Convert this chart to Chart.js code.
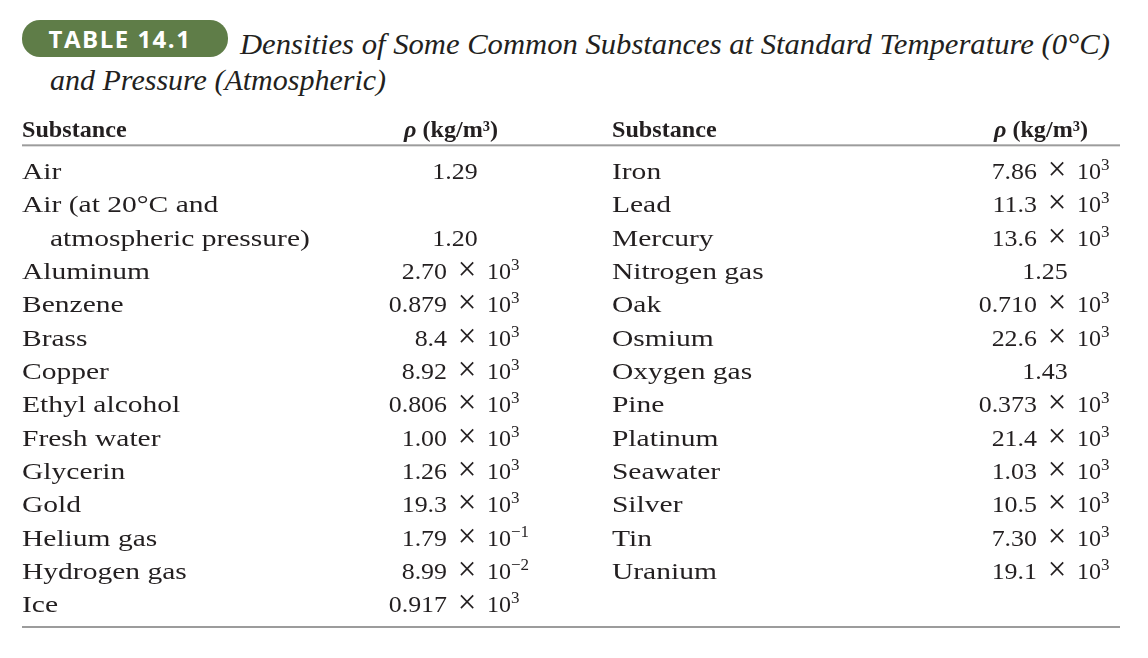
<!DOCTYPE html>
<html lang="en">
<head>
  <meta charset="UTF-8" />
  <title>Table 14.1 Densities</title>
  <script src="https://cdn.jsdelivr.net/npm/chart.js"></script>
  <style>
    html, body { margin: 0; padding: 0; background: #fff; }
    body { width: 1148px; height: 658px; position: relative; overflow: hidden; color: #231f20; }
    .badge {
      position: absolute; left: 22px; top: 20px; width: 206px; height: 37px;
      border-radius: 18px; background: #5f7d48; color: #fff;
      font: bold 24px "Open Sans", sans-serif; letter-spacing: 1.5px;
      line-height: 37px; box-sizing: border-box; padding-right: 10px; text-align: center;
    }
    .title { position: absolute; font: italic 30px "Liberation Serif", serif; line-height: 30px; white-space: nowrap; transform-origin: left top; }
    #wrap { position: absolute; left: 0; top: 0; width: 1148px; height: 658px; }
  </style>
</head>
<body>
  <div class="badge">TABLE 14.1</div>
  <div class="title" id="t1" style="left:240px; top:29px;">Densities of Some Common Substances at Standard Temperature (0°C)</div>
  <div class="title" style="left:50px; top:65px;">and Pressure (Atmospheric)</div>

  <div id="wrap"><canvas id="table"></canvas></div>

  <script>
    // table data, one array per column
    const headers = ['Substance', 'ρ (kg/m³)'];

    const leftSubstances = ['Air', 'Air (at 20°C and', 'atmospheric pressure)', 'Aluminum', 'Benzene', 'Brass',
      'Copper', 'Ethyl alcohol', 'Fresh water', 'Glycerin', 'Gold', 'Helium gas', 'Hydrogen gas', 'Ice'];
    const leftMantissas = ['1.29', '', '1.20', '2.70', '0.879', '8.4', '8.92', '0.806', '1.00', '1.26', '19.3', '1.79', '8.99', '0.917'];
    const leftExponents = [null, null, null, '3', '3', '3', '3', '3', '3', '3', '3', '−1', '−2', '3'];

    const rightSubstances = ['Iron', 'Lead', 'Mercury', 'Nitrogen gas', 'Oak', 'Osmium', 'Oxygen gas', 'Pine',
      'Platinum', 'Seawater', 'Silver', 'Tin', 'Uranium'];
    const rightMantissas = ['7.86', '11.3', '13.6', '1.25', '0.710', '22.6', '1.43', '0.373', '21.4', '1.03', '10.5', '7.30', '19.1'];
    const rightExponents = ['3', '3', '3', null, '3', '3', null, '3', '3', '3', '3', '3', '3'];

    // column anchors in percent of the table width (layout only)
    const colName = [0, 53.73];
    const colValue = [38.71, 92.44];
    const indentedRows = [2];

    const ink = '#231f20';

    const rows = (arr, x) => arr.map((_, i) => ({ x: x, y: i }));

    const tablePlugin = {
      id: 'tableText',
      afterDatasetsDraw(chart) {
        const ctx = chart.ctx;
        const area = chart.chartArea;
        const xs = chart.scales.x;
        ctx.save();

        // rules
        ctx.fillStyle = '#9c9c9c';
        ctx.fillRect(area.left, area.top - 9, area.right - area.left, 2);
        ctx.fillRect(area.left, area.bottom + 6, area.right - area.left, 2);
        ctx.fillStyle = ink;

        // header row
        const hy = area.top - 16;
        for (let h = 0; h < 2; h++) {
          ctx.save();
          ctx.translate(xs.getPixelForValue(colName[h]), hy);
          ctx.scale(1.05, 1);
          ctx.font = 'bold 23px "Liberation Serif"';
          ctx.textAlign = 'left';
          ctx.fillText(headers[0], 0, 0);
          ctx.restore();

          const rho = headers[1].slice(0, 1);
          const rest = headers[1].slice(1);
          ctx.font = 'italic bold 23px "Liberation Serif"';
          const w1 = ctx.measureText(rho).width;
          ctx.font = 'bold 23px "Liberation Serif"';
          const w2 = ctx.measureText(rest).width;
          const sx = 1.05;
          const cx = xs.getPixelForValue(colValue[h]) + 4;
          ctx.save();
          ctx.translate(cx - (w1 + w2) * sx / 2, hy);
          ctx.scale(sx, 1);
          ctx.textAlign = 'left';
          ctx.font = 'italic bold 23px "Liberation Serif"';
          ctx.fillText(rho, 0, 0);
          ctx.font = 'bold 23px "Liberation Serif"';
          ctx.fillText(rest, w1, 0);
          ctx.restore();
        }

        // body cells, placed at the points of each dataset
        chart.data.datasets.forEach((ds, d) => {
          const meta = chart.getDatasetMeta(d);
          meta.data.forEach((pt, i) => {
            const base = pt.y + 9;
            if (ds.kind === 'name') {
              const indent = (d === 0 && indentedRows.includes(i)) ? 28 : 0;
              ctx.save();
              ctx.translate(pt.x + indent, base);
              ctx.scale(1.23, 1);
              ctx.font = '24px "Liberation Serif"';
              ctx.textAlign = 'left';
              ctx.fillText(ds.labels[i], 0, 0);
              ctx.restore();
            } else {
              const m = ds.labels[i];
              const e = ds.exps[i];
              if (!m) return;
              ctx.font = '24px "Liberation Serif"';
              if (e === null) {
                ctx.save();
                ctx.translate(pt.x + 8, base);
                ctx.scale(1.08, 1);
                ctx.textAlign = 'center';
                ctx.fillText(m, 0, 0);
                ctx.restore();
                return;
              }
              ctx.save();
              ctx.translate(pt.x, base);
              ctx.scale(1.08, 1);
              ctx.textAlign = 'right';
              ctx.fillText(m, 0, 0);
              ctx.restore();

              ctx.textAlign = 'center';
              ctx.font = '33px "Liberation Serif"';
              ctx.fillText('×', pt.x + 20, base + 1);

              ctx.textAlign = 'left';
              ctx.font = '24px "Liberation Serif"';
              ctx.fillText('10', pt.x + 40, base);
              ctx.font = '17px "Liberation Serif"';
              ctx.fillText(e, pt.x + 64, base - 9);
            }
          });
        });
        ctx.restore();
      }
    };

    new Chart(document.getElementById('table'), {
      type: 'scatter',
      data: {
        datasets: [
          { kind: 'name', labels: leftSubstances, data: rows(leftSubstances, colName[0]) },
          { kind: 'value', labels: leftMantissas, exps: leftExponents, data: rows(leftMantissas, colValue[0]) },
          { kind: 'name', labels: rightSubstances, data: rows(rightSubstances, colName[1]) },
          { kind: 'value', labels: rightMantissas, exps: rightExponents, data: rows(rightMantissas, colValue[1]) },
        ],
      },
      options: {
        responsive: true,
        maintainAspectRatio: false,
        animation: false,
        layout: { padding: { left: 22, right: 28, top: 153.33, bottom: 38 } },
        elements: { point: { radius: 0, hoverRadius: 0 } },
        scales: {
          x: { type: 'linear', min: 0, max: 100, display: false },
          y: { type: 'linear', min: -0.5, max: 13.5, reverse: true, display: false },
        },
        plugins: { legend: { display: false }, tooltip: { enabled: false } },
      },
      plugins: [tablePlugin],
    });

    // stretch the first title line to its printed width
    const t1 = document.getElementById('t1');
    t1.style.transform = 'scaleX(' + (870 / t1.offsetWidth) + ')';
  </script>
</body>
</html>
